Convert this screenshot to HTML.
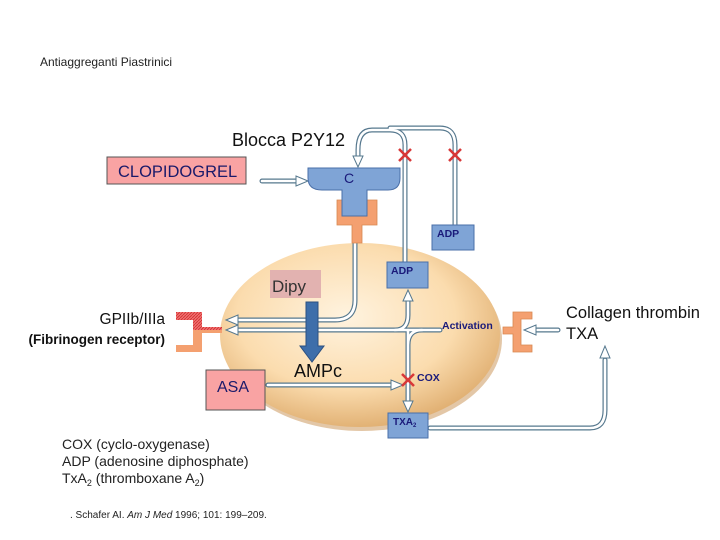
<!DOCTYPE html>
<html><head><meta charset="utf-8"><style>
body{margin:0;background:#fff}
svg{display:block;font-family:"Liberation Sans",sans-serif}
</style></head><body>
<svg width="720" height="540" viewBox="0 0 720 540" xmlns="http://www.w3.org/2000/svg">
<defs>
<radialGradient id="eg" cx="0.45" cy="0.4" r="0.65">
<stop offset="0" stop-color="#fff3df"/><stop offset="0.6" stop-color="#fbdcae"/><stop offset="1" stop-color="#dca868"/>
</radialGradient>
<pattern id="hat" width="3" height="3" patternUnits="userSpaceOnUse"><rect width="3" height="3" fill="#f07070"/><path d="M0 3L3 0" stroke="#d03030" stroke-width="0.8"/></pattern>
</defs>
<text x="40" y="66" font-size="12" fill="#222">Antiaggreganti Piastrinici</text>
<ellipse cx="362" cy="339" rx="140" ry="92" fill="#c89050" opacity="0.5"/>
<ellipse cx="360" cy="335" rx="140" ry="92" fill="url(#eg)"/>

<g fill="none" stroke-linecap="round">
<g stroke="#56788e" stroke-width="5">
<path d="M262 181H300"/>
<path d="M355 243V300Q355 320 335 320H235"/>
<path d="M440 330H235"/>
<path d="M405 265V145Q405 130 390 130H372Q358 130 358 150V160"/>
<path d="M455 225V145Q455 128 440 128H390"/>
<path d="M408 298V315Q408 330 395 330M408 330V405M422 330Q408 330 408 345"/>
<path d="M268 385H395"/>
<path d="M430 428H590Q605 428 605 410V360"/>
<path d="M558 330H530"/>
</g>
<g stroke="#fff" stroke-width="2.6">
<path d="M262 181H300"/>
<path d="M355 243V300Q355 320 335 320H235"/>
<path d="M440 330H235"/>
<path d="M405 265V145Q405 130 390 130H372Q358 130 358 150V160"/>
<path d="M455 225V145Q455 128 440 128H390"/>
<path d="M408 298V315Q408 330 395 330M408 330V405M422 330Q408 330 408 345"/>
<path d="M268 385H395"/>
<path d="M430 428H590Q605 428 605 410V360"/>
<path d="M558 330H530"/>
</g>
</g>
<g fill="#fff" stroke="#56788e" stroke-width="1">
<polygon points="308,181 296,176 296,186"/>
<polygon points="226,320 238,315 238,325"/>
<polygon points="226,330 238,325 238,335"/>
<polygon points="358,167 353,156 363,156"/>
<polygon points="403,385 391,380 391,390"/>
<polygon points="408,412 403,401 413,401"/>
<polygon points="408,290 403,301 413,301"/>
<polygon points="605,346 600,358 610,358"/>
<polygon points="524,330 536,325 536,335"/>
</g>

<path d="M353 200h24v25h-15v18h-10v-18h-15v-25h16z" fill="#f4a070" stroke="#d88850" stroke-width="0.8"/>
<path d="M308 168H400V178Q400 190 388 190H367V216H342V190H322Q308 190 308 178Z" fill="#7fa4d6" stroke="#4a6fa8"/>
<text x="344" y="183" font-size="14" fill="#1a1a7a">C</text>

<rect x="107" y="157" width="139" height="27" fill="#f9a3a3" stroke="#555"/>
<text x="118" y="177" font-size="16.5" fill="#1a1a6a">CLOPIDOGREL</text>
<text x="232" y="146" font-size="18" fill="#111">Blocca P2Y12</text>

<rect x="432" y="225" width="42" height="25" fill="#7fa4d6" stroke="#4a6fa8"/>
<text x="437" y="237" font-size="10.5" font-weight="bold" fill="#1a1a7a">ADP</text>
<rect x="387" y="262" width="41" height="26" fill="#7fa4d6" stroke="#4a6fa8"/>
<text x="391" y="274" font-size="10.5" font-weight="bold" fill="#1a1a7a">ADP</text>

<g stroke="#d83838" stroke-width="2.5">
<path d="M399 149l12 12M411 149l-12 12"/>
<path d="M449 149l12 12M461 149l-12 12"/>
<path d="M402 374l12 12M414 374l-12 12"/>
</g>

<rect x="270" y="270" width="51" height="28" fill="#e2b2b0"/>
<text x="272" y="292" font-size="17" fill="#333">Dipy</text>
<path d="M306 302h12v44h6l-12 16l-12-16h6z" fill="#3e6eaa" stroke="#2c5080"/>
<text x="294" y="377" font-size="18" fill="#111">AMPc</text>

<text x="442" y="329" font-size="10.5" font-weight="bold" fill="#1a1a7a">Activation</text>
<text x="417" y="381" font-size="10.5" font-weight="bold" fill="#1a1a7a">COX</text>

<rect x="388" y="413" width="40" height="25" fill="#7fa4d6" stroke="#4a6fa8"/>
<text x="393" y="425" font-size="10" font-weight="bold" fill="#1a1a7a">TXA<tspan font-size="6" dy="2">2</tspan></text>

<!-- right receptor -->
<path d="M503 327h10v-15h19v7h-11v26h11v7h-19v-18h-10z" fill="#f4a070" stroke="#d88850" stroke-width="0.8"/>

<!-- left receptor -->
<path d="M176 345h17v-15h9v22h-26z" fill="#f4a070"/>
<path d="M202 327h20v6h-20z" fill="#f4a070"/>
<path d="M176 312h26v18h-9v-10h-17z" fill="url(#hat)"/>
<path d="M193 327h29v3h-29z" fill="url(#hat)"/>

<rect x="206" y="370" width="59" height="40" fill="#f9a3a3" stroke="#555"/>
<text x="217" y="392" font-size="16" fill="#1a1a6a">ASA</text>

<text x="165" y="324" font-size="15.5" fill="#111" text-anchor="end">GPIIb/IIIa</text>
<text x="165" y="344" font-size="13.5" font-weight="bold" fill="#111" text-anchor="end">(Fibrinogen receptor)</text>
<text x="566" y="318" font-size="16.5" fill="#111">Collagen thrombin</text>
<text x="566" y="339" font-size="16.5" fill="#111">TXA</text>

<g font-size="14" fill="#222">
<text x="62" y="449">COX (cyclo-oxygenase)</text>
<text x="62" y="466">ADP (adenosine diphosphate)</text>
<text x="62" y="483">TxA<tspan font-size="9" dy="3">2</tspan><tspan dy="-3"> (thromboxane A</tspan><tspan font-size="9" dy="3">2</tspan><tspan dy="-3">)</tspan></text>
</g>
<text x="70" y="518" font-size="10" fill="#222">. Schafer AI. <tspan font-style="italic">Am J Med</tspan> 1996; 101: 199–209.</text>
</svg>
</body></html>
